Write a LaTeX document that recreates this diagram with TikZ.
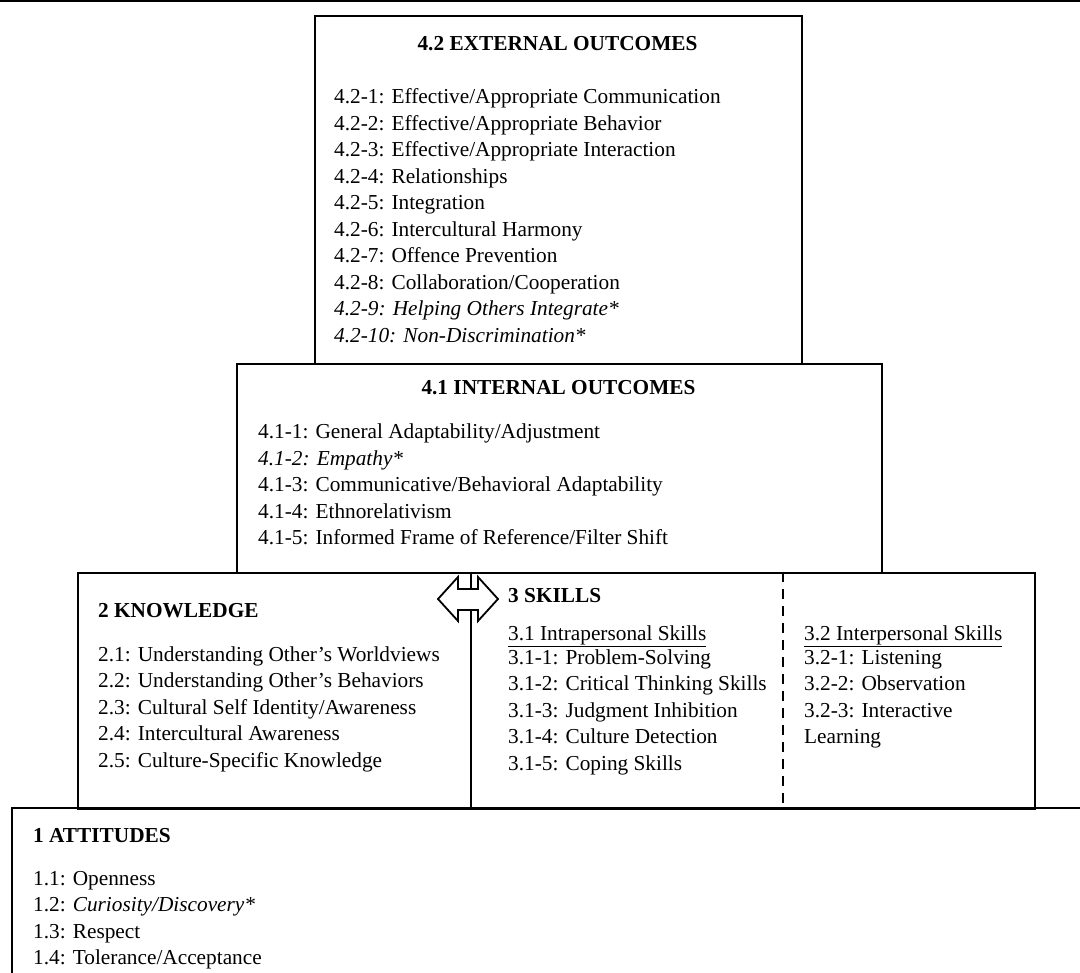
\documentclass[tikz,border=0pt]{standalone}
\usepackage{fontspec}
\setmainfont{Liberation Serif}
\begin{document}
\begin{tikzpicture}[x=1pt,y=-1pt,
  box/.style={draw=black,line width=2pt,inner sep=0pt,anchor=north west},
  body/.style={inner sep=0pt,anchor=base west,font=\fontsize{21.3}{26.5}\selectfont},
  head/.style={inner sep=0pt,anchor=base,font=\fontsize{21.3}{26.5}\selectfont\bfseries},
  headw/.style={head,anchor=base west},
  divider/.style={line width=2pt,dash pattern=on 10pt off 7pt},
  dblarrow/.style={draw=black,line width=1.8pt,fill=white,line join=miter}]
\useasboundingbox (0,0) rectangle (1080,973);
\draw[line width=4pt] (0,0) -- (1080,0);
% boxes
\node[box,minimum width=487pt,minimum height=348pt] (ext) at (314,15) {};
\node[box,minimum width=645pt,minimum height=209pt] (int) at (236,363) {};
\node[box,minimum width=393pt,minimum height=236pt] (know) at (77,572) {};
\node[box,minimum width=564pt,minimum height=236pt] (skill) at (470,572) {};
\coordinate (attR) at (1080,808);
\coordinate (attB) at (12,973);
\draw[line width=2pt] (attR) -| (attB);
\coordinate (divT) at (783,572);
\coordinate (divB) at (783,808);
\draw[divider] (divT) -- (divB);
% double arrow between knowledge and skills
\draw[dblarrow] (438,599) -- (458,577) -- (458,589) -- (478,589) -- (478,577) -- (498,599)
  -- (478,621) -- (478,610) -- (458,610) -- (458,621) -- cycle;
% 4.2 external outcomes
\node[head] (extT) at (557.5,51) {4.2 EXTERNAL OUTCOMES};
\foreach \t [count=\i from 0] in {
  4.2-1: Effective/Appropriate Communication,
  4.2-2: Effective/Appropriate Behavior,
  4.2-3: Effective/Appropriate Interaction,
  4.2-4: Relationships,
  4.2-5: Integration,
  4.2-6: Intercultural Harmony,
  4.2-7: Offence Prevention,
  4.2-8: Collaboration/Cooperation,
  {\itshape 4.2-9: Helping Others Integrate*},
  {\itshape 4.2-10: Non-Discrimination*}}
  \node[body] (ext\i) at (334,104+26.5*\i) {\t};
% 4.1 internal outcomes
\node[head] (intT) at (558.5,395) {4.1 INTERNAL OUTCOMES};
\foreach \t [count=\i from 0] in {
  4.1-1: General Adaptability/Adjustment,
  {\itshape 4.1-2: Empathy*},
  4.1-3: Communicative/Behavioral Adaptability,
  4.1-4: Ethnorelativism,
  4.1-5: Informed Frame of Reference/Filter Shift}
  \node[body] (int\i) at (258,439+26.5*\i) {\t};
% 2 knowledge
\node[headw] (knowT) at (98,617) {2 KNOWLEDGE};
\foreach \t [count=\i from 0] in {
  2.1: Understanding Other’s Worldviews,
  2.2: Understanding Other’s Behaviors,
  2.3: Cultural Self Identity/Awareness,
  2.4: Intercultural Awareness,
  2.5: Culture-Specific Knowledge}
  \node[body] (know\i) at (98,661+26.5*\i) {\t};
% 3 skills
\node[headw] (skillT) at (508,602) {3 SKILLS};
\node[body] (intraT) at (508,640) {\underline{3.1 Intrapersonal Skills}};
\foreach \t [count=\i from 0] in {
  3.1-1: Problem-Solving,
  3.1-2: Critical Thinking Skills,
  3.1-3: Judgment Inhibition,
  3.1-4: Culture Detection,
  3.1-5: Coping Skills}
  \node[body] (intra\i) at (508,664+26.5*\i) {\t};
\node[body] (interT) at (804,640) {\underline{3.2 Interpersonal Skills}};
\foreach \t [count=\i from 0] in {
  3.2-1: Listening,
  3.2-2: Observation,
  3.2-3: Interactive,
  Learning}
  \node[body] (inter\i) at (804,664+26.5*\i) {\t};
% 1 attitudes
\node[headw] (attT) at (33,842) {1 ATTITUDES};
\foreach \t [count=\i from 0] in {
  1.1: Openness,
  1.2: {\itshape Curiosity/Discovery*},
  1.3: Respect,
  1.4: Tolerance/Acceptance}
  \node[body] (att\i) at (33,885+26.5*\i) {\t};
\end{tikzpicture}
\end{document}
